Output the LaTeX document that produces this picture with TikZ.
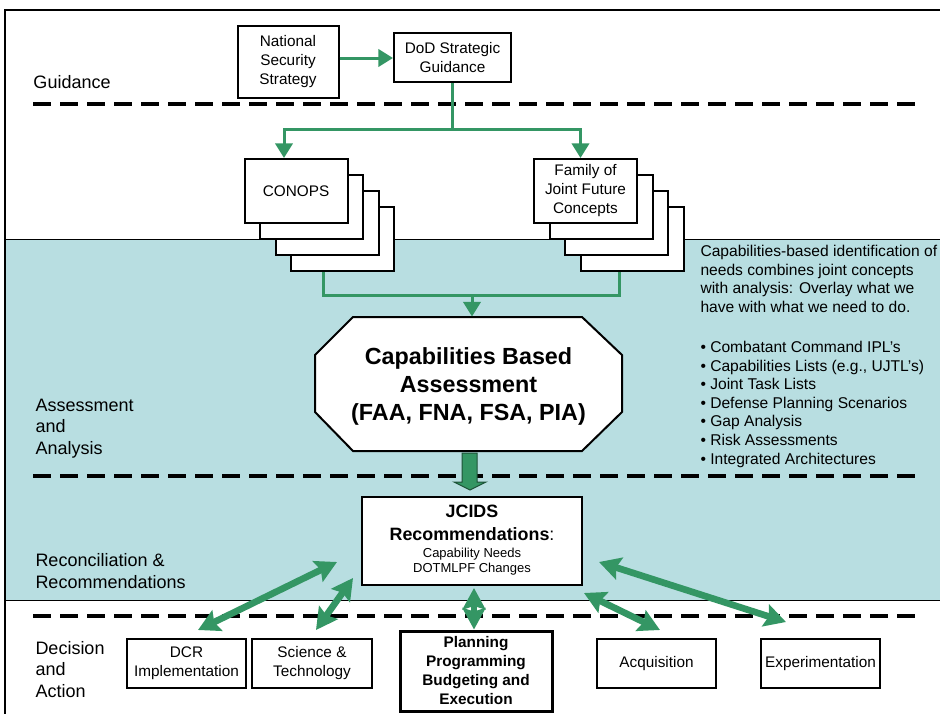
\documentclass[tikz,border=0pt]{standalone}
\usepackage{fontspec}
\setmainfont{Liberation Sans}
\usetikzlibrary{arrows.meta,calc}

\definecolor{jgreen}{RGB}{52,150,100}
\definecolor{jteal}{RGB}{184,222,225}

\tikzset{every picture/.style={line width=0.75pt}}
\tikzset{
  box/.style={draw,fill=white,line width=1.5pt,align=center,inner sep=1pt,font=\fontsize{11.5}{14.25}\selectfont},
  stackbox/.style={box,minimum width=77.25pt,minimum height=48pt},
  sep/.style={line width=3pt,dash pattern=on 13.5pt off 6.75pt},
  gline/.style={draw=jgreen,line width=2.25pt},
  flow/.style={gline,-{Triangle[length=11pt,width=13pt]}},
  link/.style={draw=jgreen,line width=5pt,{Stealth[length=16pt,width=17pt,inset=2.5pt]}-{Stealth[length=16pt,width=17pt,inset=2.5pt]}},
  lane/.style={anchor=base west,align=left,inner sep=0pt,font=\fontsize{13.5}{16}\selectfont}
}

\begin{document}
\begin{tikzpicture}[x=0.75pt,y=0.75pt,yscale=-1,xscale=1]
\path[use as bounding box] (0,0) rectangle (940,714);

%Shape: Rectangle [teal band]
\fill[jteal] (5,239) rectangle (940,600);
\draw (5,239) -- (940,239);
\draw (5,600) -- (940,600);
%Straight Lines [frame]
\draw[line width=1.5pt] (940,10) -- (5,10) -- (5,714);

%Straight Lines [dashed separators]
\draw[sep] (33,104) -- (918,104);
\draw[sep] (33,476) -- (918,476);
\draw[sep] (33,616) -- (918,616);

% Text Node (anchored on last baseline)
\node[lane] (lguide) at (33,88) {Guidance};
% Text Node
\node[lane] (lassess) at (35,454) {Assessment\\and\\Analysis};
% Text Node
\node[lane] (lrecon) at (35,588) {Reconciliation \&\\Recommendations};
% Text Node
\node[lane] (ldecide) at (35,697) {Decision\\and\\Action};

%Shape: Rectangle [guidance boxes]
\node[box,minimum width=75.75pt,minimum height=54pt] (nss) at (288,62) {National\\Security\\Strategy};
\node[box,minimum width=87.75pt,minimum height=36.75pt] (dod) at (452.5,57.5) {DoD Strategic\\Guidance};
\draw[flow] (nss.east |- 0,58) -- (dod.west |- 0,58);

%Shape: Rectangle [CONOPS stack]
\node[stackbox] (conops3) at (342.5,239) {};
\node[stackbox] (conops2) at (327,223) {};
\node[stackbox] (conops1) at (311.5,207) {};
\node[stackbox] (conops) at (296,191) {CONOPS};
%Shape: Rectangle [concepts stack]
\node[stackbox] (family3) at (632,239) {};
\node[stackbox] (family2) at (616.5,223) {};
\node[stackbox] (family1) at (601,207) {};
\node[stackbox] (family) at (585.5,191) {Family of\\Joint Future\\Concepts};

%Straight Lines [guidance to concepts]
\draw[gline] (dod.south) -- ++(0,46) coordinate (split);
\draw[flow] (split) -| ($(conops.north)+(-12,0)$);
\draw[flow] (split) -| ($(family.north)+(-5,0)$);

%Shape: Octagon
\draw[fill=white,line width=1.5pt] (353,317) -- (582,317) -- (622,355) -- (622,412) -- (582,451) -- (353,451) -- (315,412) -- (315,355) -- cycle;
% Text Node
\node[minimum width=230pt,minimum height=100.5pt,align=center,inner sep=1pt,font=\bfseries\fontsize{17.5}{21}\selectfont] (cba) at (468.5,386) {Capabilities Based\\Assessment\\(FAA, FNA, FSA, PIA)};

%Straight Lines [concepts to assessment]
\coordinate (dropl) at ($(conops3.south)+(-19,0)$);
\coordinate (dropr) at ($(family3.south)+(-13,0)$);
\draw[gline] (dropl) -- ++(0,23) coordinate (joinl) -| (dropr);
\draw[flow] ($(cba.north |- joinl)+(3.5,0)$) -- ($(cba.north)+(3.5,-2)$);

% Text Node
\node[anchor=base west,align=left,inner sep=0pt,font=\fontsize{11.7}{13.95}\selectfont] (notes) at (700,464) {Capabilities-based identification of\\needs combines joint concepts\\with analysis: Overlay what we\\have with what we need to do.\\[16pt]
• Combatant Command IPL’s\\• Capabilities Lists (e.g., UJTL’s)\\• Joint Task Lists\\• Defense Planning Scenarios\\• Gap Analysis\\• Risk Assessments\\• Integrated Architectures};

%Shape: Rectangle [recommendations]
\node[box,minimum width=165pt,minimum height=66pt,font=\fontsize{13.4}{17}\selectfont] (jcids) at (472,541) {\textbf{JCIDS}\\\textbf{Recommendations}:\\[-4.25pt]{\fontsize{9.75}{11.25}\selectfont Capability Needs}\\[-5.75pt]{\fontsize{9.75}{11.25}\selectfont DOTMLPF Changes\strut}};

%Shape: Block Arrow
\draw[fill=jgreen,draw=jgreen!55!black,line width=0.75pt] (462,453) -- (477,453) -- (477,482) -- (486,482) -- (470,490) -- (454,482) -- (462,482) -- cycle;

%Shape: Rectangle [decision boxes]
\node[box,minimum width=89.25pt,minimum height=36.75pt] (dcr) at (186.5,663.5) {DCR\\Implementation};
\node[box,minimum width=90pt,minimum height=36.75pt] (sci) at (312,663.5) {Science \&\\Technology};
\node[box,line width=2.25pt,minimum width=114pt,minimum height=60pt,font=\bfseries\fontsize{11.5}{14.25}\selectfont] (ppbe) at (476,671) {Planning\\Programming\\Budgeting and\\Execution};
\node[box,minimum width=89.25pt,minimum height=36.75pt] (acq) at (656.5,663.5) {Acquisition};
\node[box,minimum width=89.25pt,minimum height=36.75pt] (exper) at (820.5,663.5) {Experimentation};

%Straight Lines [two-way links]
\draw[link] ($(dcr.north)+(11.5,-8)$) -- ($(jcids.west)+(-24,21)$);
\draw[link] ($(sci.north)+(4,-8)$) -- ($(jcids.south west)+(-8,-8)$);
\draw[link] ($(jcids.south)+(2,2)$) -- ($(ppbe.north)+(-2,0)$);
\draw[link] ($(jcids.south east)+(1,7)$) -- ($(acq.north)+(3.5,-8)$);
\draw[link] ($(jcids.east)+(16,21)$) -- ($(exper.north)+(-34.5,-16)$);

\end{tikzpicture}
\end{document}
